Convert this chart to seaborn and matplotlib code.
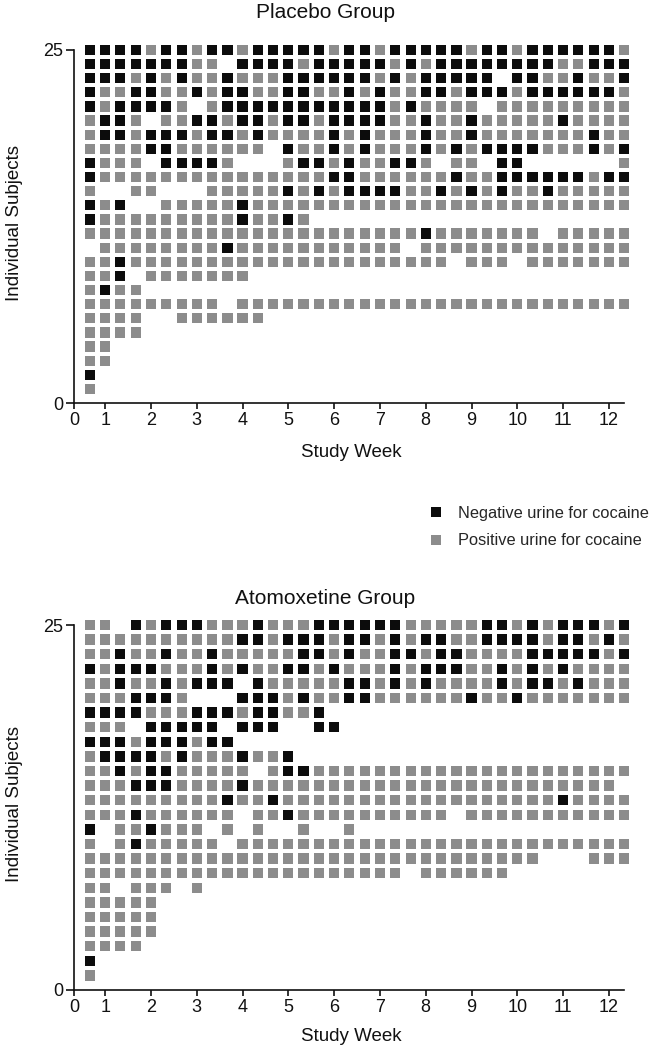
import matplotlib
matplotlib.use("Agg")
import matplotlib.pyplot as plt
import seaborn as sns
import pandas as pd

# ---------------- data ----------------
visit_week = [0.67, 1.00, 1.33, 1.67, 2.00, 2.33, 2.67, 3.00, 3.33, 3.67, 4.00, 4.33,
              4.67, 5.00, 5.33, 5.67, 6.00, 6.33, 6.67, 7.00, 7.33, 7.67, 8.00, 8.33,
              8.67, 9.00, 9.33, 9.67, 10.00, 10.33, 10.67, 11.00, 11.33, 11.67, 12.00, 12.33]
subjects = list(range(25, 0, -1))  # row order of the strings below (top to bottom)

# B = negative urine, G = positive urine, . = no sample
placebo_rows = [
    "BBBBGBBGBBG" "BBBBBGBBGBBB" "BBGBBGBBBBBBG",
    "BBBBBBBGG.B" "BBBGBBBBBGBG" "BBBBBBBBGGBBB",
    "BBBGBGBGGBG" "GGBBBBBBGBGB" "BBBB.BBGGBGGB",
    "BGGBBGGBGBB" "GGBBGGBGBGGB" "BGBBBGBBBBBBG",
    "BGBBBBG.GBB" "BBBBBBBBBGBG" "GGG.GGGGGGGGG",
    "GBBG.GGBBGB" "BGBBGBBBBGGB" "GGBGGGGGBGGGG",
    "GBBGBBBGBBG" "BGGGGBGBGGGB" "GGBGGGGGGGBGG",
    "GGGGBBGGGGG" "G.BGGBGBGGGB" "GBGBBBBGGGBGB",
    "BGGG.BBBBG." "..GBBGBGGBBG" ".GG.BB......G",
    "BGGGGGGGGGG" "GGGGGBBGGGGG" "GBGGBBBBBBGBB",
    "G..GG...GGG" "GGBGBGBBBBGG" "BGBGBGGBGGGGG",
    "BGB..GGGGGB" "GGGGGGGGGGGG" "GGGGGGGGGGGGG",
    "BGGGGGGGGGB" "GGBG",
    "GGGGGGGGGGG" "GGGGGGGGGGGB" "GGGGGGG.GGGGG",
    ".GGGGGGGGBG" "GGGGGGGGGG.G" "GGGGGGGGGGGGG",
    "GGBGGGGGGGG" "GGGGGGGGGGGG" "G.GGG.GGGGGGG",
    "GGB.GGGGGGG",
    "GBGG",
    "GGGGGGGGG.G" "GGGGGGGGGGGG" "GGGGGGGGGGGGG",
    "GGGG..GGGGG" "G",
    "GGGG",
    "GG",
    "GG",
    "B",
    "G",
]

atomoxetine_rows = [
    "GG.BGBBBGGG" "BGGGBBBBBBGG" "GGGBBGBGBBBGB",
    "GGGGGGGGGGB" "BGBBBGBBGBGB" "BGGBBBBGBBGBG",
    "GGBGGBGGBGG" "GGGBBGBGGBBG" "BBGGGGBBBBBGB",
    "BGBBBGGGBGB" "GGBBGBGGGBGB" "BBGGBGBGBGGGG",
    "GGBGGBGBBB." "BGGGGGBBGBGB" "GGGGBGBBGBGGG",
    "GGGBBBG...B" "BBGBGGBBGGGG" "GGBGGBGGGGGGG",
    "BBBBGGGBBBG" "BBGGB",
    "GGG.BBBBB.B" "BB..BB",
    "BBBGBBBGBB",
    "GBBBBGBGGGB" "GGB",
    "GGBGBBGGGGG" ".GBBGGGGGGGG" "GGGGGGGGGGGGG",
    "GGGBBBGGGGB" "GGGGGGGGGGGG" "GGGGGGGGGGGG.",
    "GGGGGGGGGBG" "GBGGGGGGGGGG" "GGGGGGGGBGGGG",
    "GGGBGGGGGG." "GGBGGGGGGGGG" "G.GGGGGGGGGGG",
    "B.GGBGGG.G." "G..G..G",
    "G.GBGGGGG.G" "GGGGGGGGGGGG" "GGGGGGGGGGGGG",
    "GGGGGGGGGGG" "GGGGGGGGGGGG" "GGGGGGG...GGG",
    "GGGGGGGGGGG" "GGGGGGGGGG.G" "GGGGG",
    "GG.GGG.G",
    "GGGGG",
    "GGGGG",
    "GGGGG",
    "GGGG",
    "B",
    "G",
]

NEG = "Negative urine for cocaine"
POS = "Positive urine for cocaine"
result_codes = {"B": NEG, "G": POS}
x_tick_values = [0.32, 1, 2, 3, 4, 5, 6, 7, 8, 9, 10, 11, 12]
x_tick_labels = ["0", "1", "2", "3", "4", "5", "6", "7", "8", "9", "10", "11", "12"]
y_ticks = [0, 25]


def to_frame(rows):
    recs = []
    for subj, row in zip(subjects, rows):
        for wk, ch in zip(visit_week, row.ljust(len(visit_week), ".")):
            if ch in result_codes:
                recs.append((wk, subj, result_codes[ch]))
    return pd.DataFrame(recs, columns=["week", "subject", "result"])


# ---------------- figure ----------------
sns.set_style("white")
plt.rcParams["font.family"] = ["Liberation Sans", "DejaVu Sans"]

W, H = 651, 1050
fig = plt.figure(figsize=(W / 100, H / 100), dpi=100)

x_left_px, x_scale = 74, 45.8
xlim = (0.32, 12.45)
ax_w_px = (xlim[1] - xlim[0]) * x_scale
ytop = 25.45


def make_axes(y0_px, y_scale):
    h_px = ytop * y_scale
    return fig.add_axes([x_left_px / W, 1 - y0_px / H, ax_w_px / W, h_px / H])


ax_top = make_axes(403, 14.12)
ax_bot = make_axes(990, 14.6)

palette = {NEG: "#0c0c0c", POS: "#8c8c8c"}

for ax, rows, show_leg in [(ax_top, placebo_rows, True), (ax_bot, atomoxetine_rows, False)]:
    df = to_frame(rows)
    sns.scatterplot(data=df, x="week", y="subject", hue="result", hue_order=[NEG, POS],
                    palette=palette, marker="s", s=54, linewidth=0, ax=ax, legend=show_leg)
    ax.set_xlim(*xlim)
    ax.set_ylim(0, ytop)
    ax.set_xticks(x_tick_values)
    ax.set_xticklabels(x_tick_labels)
    ax.set_yticks(y_ticks)
    ax.spines["top"].set_visible(False)
    ax.spines["right"].set_visible(False)
    for s in ("left", "bottom"):
        ax.spines[s].set_linewidth(1.2)
        ax.spines[s].set_color("#111111")
    ax.spines["left"].set_bounds(0, 25)
    ax.spines["bottom"].set_bounds(0.32, 12.33)
    ax.tick_params(axis="x", direction="out", length=4, width=1.2, pad=2.5,
                   labelsize=13, colors="#111111", bottom=True)
    ax.tick_params(axis="y", direction="out", length=6, width=1.2, pad=1.5,
                   labelsize=13, colors="#111111", left=True)
    ax.set_xlabel("Study Week", fontsize=13.5, color="#111111")
    ax.set_ylabel("Individual Subjects", fontsize=13.5, color="#111111")
    ax.yaxis.set_label_coords((23 - x_left_px) / ax_w_px, 0.5)

ax_top.xaxis.set_label_coords(0.5, -41 / (ytop * 14.12))
ax_bot.xaxis.set_label_coords(0.5, -38 / (ytop * 14.6))

fig.text(0.5, 1 - 12 / H, "Placebo Group", ha="center", va="center", fontsize=15, color="#111111")
fig.text(0.5, 1 - 598 / H, "Atomoxetine Group", ha="center", va="center", fontsize=15, color="#111111")

sns.move_legend(ax_top, loc="upper left", bbox_to_anchor=(427.5 / W, 1 - 506 / H),
                bbox_transform=fig.transFigure, frameon=False, title=None,
                fontsize=11.8, handlelength=1.0, handletextpad=0.85, labelspacing=0.75,
                borderpad=0, borderaxespad=0)

fig.savefig("out.png", dpi=100)
